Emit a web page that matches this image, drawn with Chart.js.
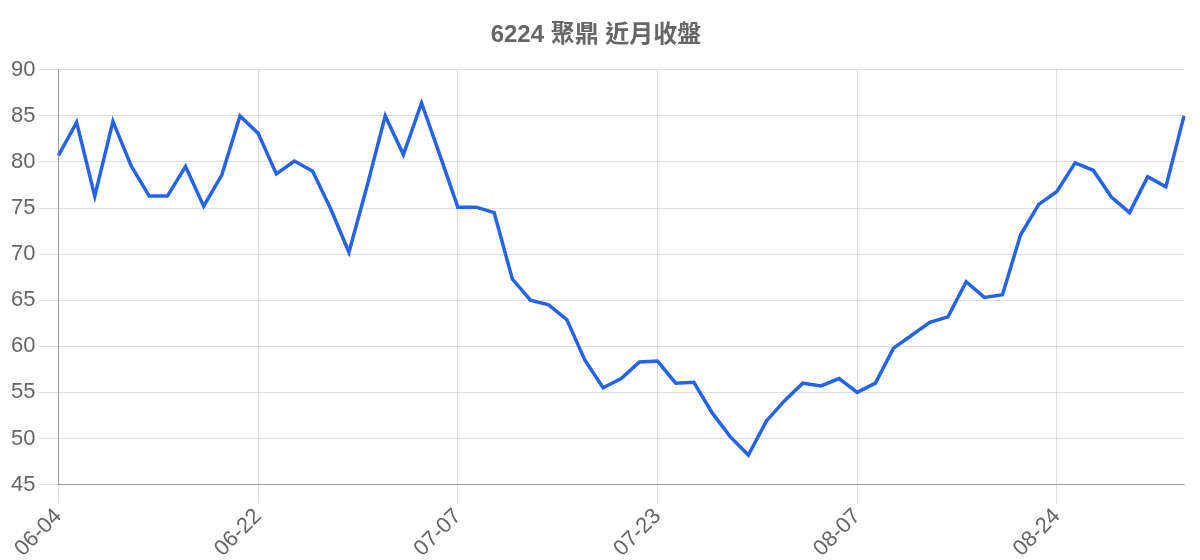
<!DOCTYPE html>
<html>
<head>
<meta charset="utf-8">
<script src="https://cdn.jsdelivr.net/npm/chart.js@4/dist/chart.umd.min.js"></script>
<style>
  html, body { margin: 0; padding: 0; background: #fff; }
  #wrap { width: 1200px; height: 560px; }
</style>
</head>
<body>
<div id="wrap"><canvas id="c" width="1200" height="560"></canvas></div>
<script>
const chartTitle = '6224 聚鼎 近月收盤';
const dates = [
  '06-04','06-07','06-08','06-09','06-10','06-11','06-14','06-15','06-16','06-17','06-21',
  '06-22','06-23','06-24','06-25','06-28','06-29','06-30','07-01','07-02','07-05','07-06',
  '07-07','07-08','07-09','07-12','07-13','07-14','07-15','07-16','07-19','07-20','07-22',
  '07-23','07-26','07-27','07-28','07-29','07-30','08-02','08-03','08-04','08-05','08-06',
  '08-07','08-10','08-11','08-12','08-13','08-16','08-17','08-18','08-19','08-20','08-23',
  '08-24','08-25','08-26','08-27','08-30','08-31','09-01','09-02'
];
const closes = [
  80.7, 84.3, 76.3, 84.4, 79.6, 76.3, 76.3, 79.5, 75.2, 78.6, 85.0,
  83.1, 78.7, 80.1, 79.0, 74.9, 70.2, 77.4, 85.0, 80.8, 86.4, 80.8,
  75.1, 75.1, 74.5, 67.3, 65.0, 64.5, 62.9, 58.5, 55.5, 56.5, 58.3,
  58.4, 56.0, 56.1, 52.8, 50.2, 48.2, 51.9, 54.1, 56.0, 55.7, 56.5,
  55.0, 56.0, 59.8, 61.2, 62.6, 63.2, 67.0, 65.3, 65.6, 72.1, 75.4,
  76.8, 79.9, 79.1, 76.2, 74.5, 78.4, 77.3, 85.0
];
const yMin = 45, yMax = 90, yStep = 5;
const labelEvery = 11;

new Chart(document.getElementById('c'), {
  type: 'line',
  data: {
    labels: dates,
    datasets: [{
      label: chartTitle,
      data: closes,
      borderColor: 'rgb(37,99,235)',
      backgroundColor: 'rgb(37,99,235)',
      borderWidth: 3.5,
      pointRadius: 0,
      tension: 0,
      fill: false
    }]
  },
  options: {
    responsive: false,
    animation: false,
    layout: { padding: { right: 16, left: 8, top: 0, bottom: -2 } },
    plugins: {
      legend: { display: false },
      tooltip: { enabled: false },
      title: {
        display: true,
        text: chartTitle,
        color: '#666',
        font: { family: 'Liberation Sans, Arial, "Noto Sans CJK TC", sans-serif', size: 24, weight: 'bold' },
        padding: { top: 21, bottom: 20 }
      }
    },
    scales: {
      x: {
        grid: { color: 'rgba(0,0,0,0.13)', lineWidth: 1, tickLength: 19 },
        border: { color: 'rgba(0,0,0,0.3)' },
        ticks: {
          autoSkip: false,
          maxRotation: 45,
          minRotation: 45,
          color: '#666',
          font: { family: 'Liberation Sans, Arial, sans-serif', size: 22 },
          padding: 0,
          callback: function(v, i) { return i % labelEvery === 0 ? dates[i] : null; }
        }
      },
      y: {
        min: yMin,
        max: yMax,
        grid: { color: 'rgba(0,0,0,0.13)', lineWidth: 1, tickLength: 20 },
        border: { color: 'rgba(0,0,0,0.3)' },
        ticks: {
          stepSize: yStep,
          color: '#666',
          font: { family: 'Liberation Sans, Arial, sans-serif', size: 22 },
          padding: 3
        }
      }
    }
  }
});
</script>
</body>
</html>
